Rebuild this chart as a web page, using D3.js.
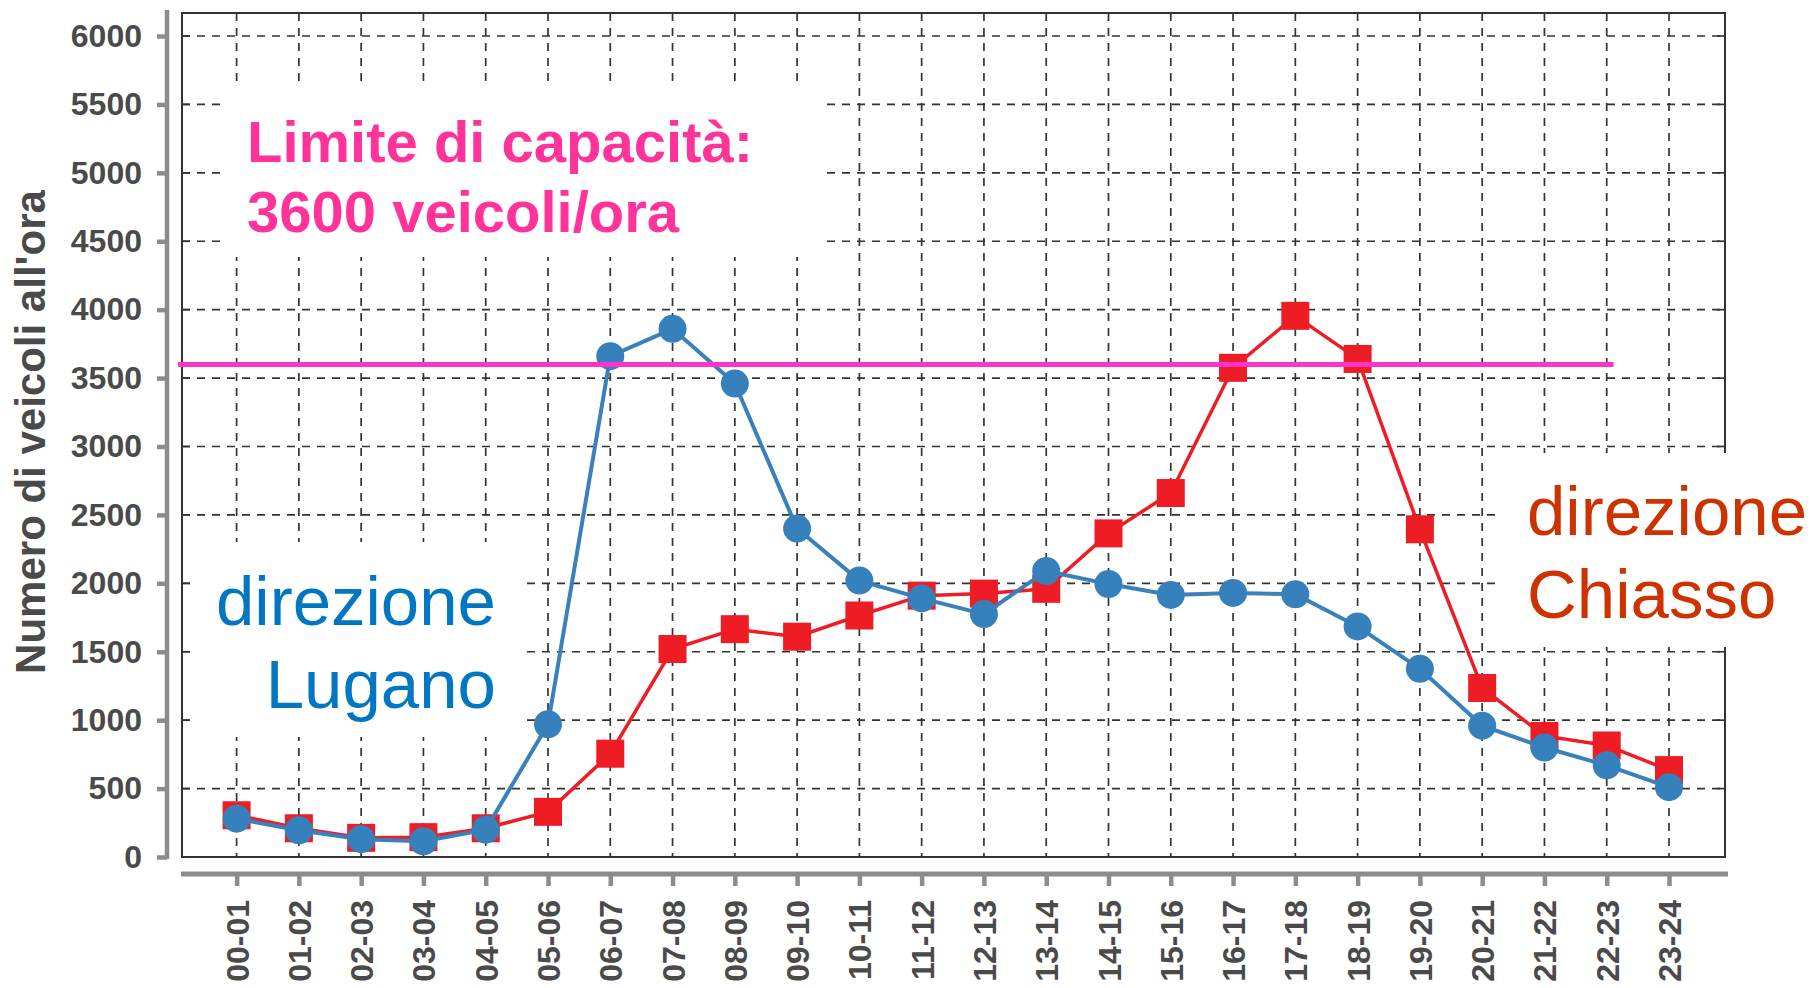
<!DOCTYPE html>
<html>
<head>
<meta charset="utf-8">
<script src="https://cdn.jsdelivr.net/npm/d3@7"></script>
<style>
  body { margin: 0; background: #fff; }
  svg { display: block; font-family: 'Liberation Sans', Arial, sans-serif; }
</style>
</head>
<body>
<svg id="chart" width="1810" height="988"></svg>
<script>
// ore del giorno (asse x)
const hours = ['00-01', '01-02', '02-03', '03-04', '04-05', '05-06', '06-07', '07-08',
  '08-09', '09-10', '10-11', '11-12', '12-13', '13-14', '14-15', '15-16', '16-17',
  '17-18', '18-19', '19-20', '20-21', '21-22', '22-23', '23-24']

// veicoli all'ora, direzione Lugano (cerchi blu)
const lugano = [280, 195, 130, 115, 200, 970, 3660, 3860, 3460, 2400, 2020, 1890,
  1775, 2090, 1995, 1915, 1930, 1920, 1685, 1375, 960, 800, 670, 510]

// veicoli all'ora, direzione Chiasso (quadrati rossi)
const chiasso = [305, 210, 140, 145, 210, 330, 755, 1520, 1665, 1610, 1765, 1910,
  1925, 1960, 2365, 2660, 3575, 3955, 3640, 2395, 1235, 885, 815, 635]

const yTickValues = [0, 500, 1000, 1500, 2000, 2500, 3000, 3500, 4000, 4500, 5000, 5500, 6000]

// limite di capacità e sua estensione (in indici di ora)
const capacity = 3600
const capacitySpan = [-0.94, 22.11]

const capacityText = ['Limite di capacità:', '3600 veicoli/ora']
const luganoText = ['direzione', 'Lugano']
const chiassoText = ['direzione', 'Chiasso']
const yTitle = "Numero di veicoli all'ora"

const svg = d3.select('#chart')
const box = { left: 182, right: 1725, top: 13, bottom: 857 }

const x = d3.scaleLinear().domain([0, hours.length - 1]).range([236.6, 1669])
const y = d3.scaleLinear().domain([0, 6000]).range([857, 36])

const gridColor = '#333'
const axisGray = '#8c8c8c'
const labelGray = '#4a4a4a'

// griglia tratteggiata
const grid = svg.append('g')
grid.selectAll('line.v')
  .data(hours)
  .join('line')
  .attr('class', 'v')
  .attr('x1', (d, i) => x(i))
  .attr('x2', (d, i) => x(i))
  .attr('y1', box.top)
  .attr('y2', box.bottom)
grid.selectAll('line.h')
  .data(yTickValues.filter(v => v > 0))
  .join('line')
  .attr('class', 'h')
  .attr('x1', box.left)
  .attr('x2', box.right)
  .attr('y1', d => y(d))
  .attr('y2', d => y(d))
grid.selectAll('line')
  .attr('stroke', gridColor)
  .attr('stroke-width', 1.7)
  .attr('stroke-dasharray', '8,7')

// cornice con tacche interne
svg.append('rect')
  .attr('x', box.left)
  .attr('y', box.top)
  .attr('width', box.right - box.left)
  .attr('height', box.bottom - box.top)
  .attr('fill', 'none')
  .attr('stroke', '#333')
  .attr('stroke-width', 2)
const inner = svg.append('g').attr('stroke', '#333').attr('stroke-width', 1.7)
inner.selectAll('line.l')
  .data(yTickValues)
  .join('line')
  .attr('class', 'l')
  .attr('x1', box.left).attr('x2', box.left + 8)
  .attr('y1', d => y(d)).attr('y2', d => y(d))
inner.selectAll('line.r')
  .data(yTickValues)
  .join('line')
  .attr('class', 'r')
  .attr('x1', box.right - 8).attr('x2', box.right)
  .attr('y1', d => y(d)).attr('y2', d => y(d))

// riquadri bianchi dietro le scritte
const panels = [
  [222, 88, 825, 257],
  [191, 542, 522, 737],
  [1498, 453, 1810, 647]
]
svg.append('g').selectAll('rect')
  .data(panels)
  .join('rect')
  .attr('x', d => d[0])
  .attr('y', d => d[1])
  .attr('width', d => d[2] - d[0])
  .attr('height', d => d[3] - d[1])
  .attr('fill', '#fff')

// asse y
const yAxis = svg.append('g')
  .attr('transform', 'translate(167,0)')
  .call(d3.axisLeft(y).tickValues(yTickValues).tickFormat(d3.format('d'))
    .tickSize(10).tickSizeOuter(0).tickPadding(15))
yAxis.select('.domain').remove()
yAxis.append('line')
  .attr('y1', 10).attr('y2', 859)
  .attr('stroke', axisGray).attr('stroke-width', 4.5)
yAxis.selectAll('.tick line').attr('stroke', axisGray).attr('stroke-width', 4.5)
yAxis.selectAll('.tick text')
  .attr('fill', labelGray)
  .attr('font-size', 32)
  .attr('font-weight', 'bold')
  .attr('font-family', "'Liberation Sans', Arial, sans-serif")

svg.append('text')
  .attr('transform', 'translate(30,432) rotate(-90)')
  .attr('text-anchor', 'middle')
  .attr('dy', '0.35em')
  .attr('font-size', 42)
  .attr('font-weight', 'bold')
  .attr('fill', labelGray)
  .text(yTitle)

// asse x
const xAxis = svg.append('g')
  .attr('transform', 'translate(0,874)')
  .call(d3.axisBottom(x).tickValues(d3.range(hours.length)).tickFormat(i => hours[i]).tickSize(12).tickSizeOuter(0))
xAxis.select('.domain').remove()
xAxis.append('line')
  .attr('x1', 181).attr('x2', 1728)
  .attr('stroke', axisGray).attr('stroke-width', 5)
xAxis.selectAll('.tick line').attr('stroke', axisGray).attr('stroke-width', 4.5)
xAxis.selectAll('.tick text')
  .attr('transform', 'rotate(-90)')
  .attr('text-anchor', 'end')
  .attr('x', -26)
  .attr('y', 0)
  .attr('dy', '0.36em')
  .attr('fill', labelGray)
  .attr('font-size', 32)
  .attr('font-weight', 'bold')
  .attr('font-family', "'Liberation Sans', Arial, sans-serif")

// serie
const line = d3.line().x((d, i) => x(i)).y(d => y(d))

svg.append('path')
  .datum(chiasso)
  .attr('d', line)
  .attr('fill', 'none')
  .attr('stroke', '#ee1c25')
  .attr('stroke-width', 3.5)
svg.append('g').selectAll('rect')
  .data(chiasso)
  .join('rect')
  .attr('x', (d, i) => x(i) - 14)
  .attr('y', d => y(d) - 14)
  .attr('width', 28)
  .attr('height', 28)
  .attr('fill', '#ee1c25')

svg.append('path')
  .datum(lugano)
  .attr('d', line)
  .attr('fill', 'none')
  .attr('stroke', '#3a80bb')
  .attr('stroke-width', 4)
svg.append('g').selectAll('circle')
  .data(lugano)
  .join('circle')
  .attr('cx', (d, i) => x(i))
  .attr('cy', d => y(d))
  .attr('r', 14)
  .attr('fill', '#3680bb')

// linea del limite di capacità
svg.append('line')
  .attr('x1', x(capacitySpan[0]))
  .attr('x2', x(capacitySpan[1]))
  .attr('y1', y(capacity))
  .attr('y2', y(capacity))
  .attr('stroke', '#ff33cc')
  .attr('stroke-width', 5)

// scritte
const label = (lines, px, py, step, opts) => {
  const t = svg.append('text')
    .attr('x', px)
    .attr('y', py)
    .attr('fill', opts.color)
    .attr('font-size', opts.size)
    .attr('font-weight', opts.weight)
    .attr('text-anchor', opts.anchor)
  lines.forEach((s, i) => {
    t.append('tspan').attr('x', px).attr('y', py + i * step).text(s)
  })
}
label(capacityText, 247, 162, 70, { color: '#ff3399', size: 58, weight: 'bold', anchor: 'start' })
label(luganoText, 496, 625, 83, { color: '#0077c0', size: 69, weight: 'normal', anchor: 'end' })
label(chiassoText, 1527, 535, 83, { color: '#cc3300', size: 69, weight: 'normal', anchor: 'start' })
</script>
</body>
</html>
